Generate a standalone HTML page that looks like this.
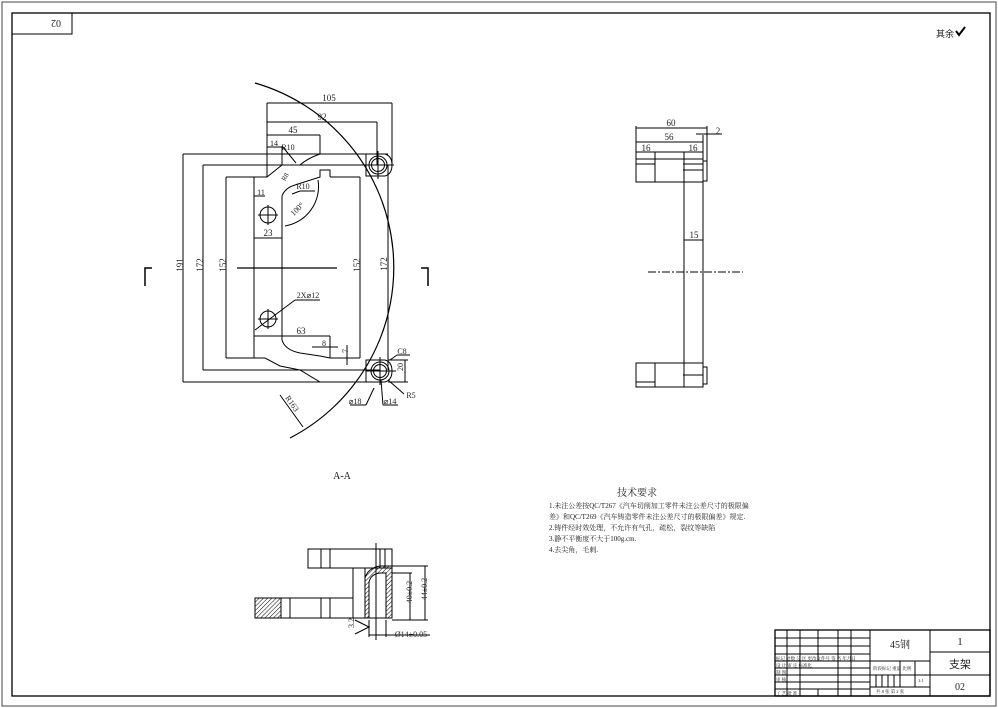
<!DOCTYPE html>
<html><head><meta charset="utf-8"><style>
html,body{margin:0;padding:0;background:#fff;}
svg{display:block;}
text{font-family:"Liberation Serif","Noto Serif CJK SC",serif;fill:#222;}
.c{font-family:"Liberation Sans","Noto Sans CJK SC",sans-serif;}
</style></head><body>
<svg width="998" height="708" viewBox="0 0 998 708" xmlns="http://www.w3.org/2000/svg">
<defs>
<pattern id="h" width="3" height="3" patternUnits="userSpaceOnUse" patternTransform="rotate(45)"><line x1="0" y1="0" x2="0" y2="3" stroke="#000" stroke-width="1"/></pattern>
</defs>
<rect x="2" y="2" width="994" height="704" fill="none" stroke="#444" stroke-width="1"/>
<rect x="12" y="13" width="978" height="683" fill="none" stroke="#000" stroke-width="1.3"/>
<rect x="12" y="13" width="60" height="21" fill="none" stroke="#000" stroke-width="1"/>
<text x="56" y="27" font-size="10" transform="rotate(180 56 23.5)" text-anchor="middle">02</text>
<text x="936" y="37" font-size="9" class="c">其余</text>
<path d="M956 31 l3 4 l6 -8" fill="none" stroke="#000" stroke-width="2"/>

<!-- MAIN VIEW -->
<g fill="none" stroke="#000" stroke-width="1">
<!-- big arc R163 -->
<path d="M255 83 A192 192 0 0 1 290 438" stroke-width="1.2"/>
<!-- extension/dimension lines -->
<line x1="183" y1="154" x2="388" y2="154"/>
<line x1="183" y1="382" x2="320" y2="382"/>
<line x1="183" y1="154" x2="183" y2="382"/>
<line x1="203" y1="165" x2="380" y2="165"/>
<line x1="203" y1="370" x2="380" y2="370"/>
<line x1="203" y1="165" x2="203" y2="370"/>
<line x1="226" y1="177" x2="254" y2="177"/>
<line x1="226" y1="358" x2="254" y2="358"/>
<line x1="226" y1="177" x2="226" y2="358"/>
<line x1="330" y1="177" x2="360" y2="177"/>
<line x1="330" y1="358" x2="360" y2="358"/>
<line x1="360" y1="177" x2="360" y2="358"/>
<line x1="388" y1="165" x2="388" y2="370"/>
<line x1="267" y1="103" x2="267" y2="177"/>
<line x1="392" y1="103" x2="392" y2="165"/>
<line x1="267" y1="103" x2="392" y2="103"/>
<line x1="377" y1="122" x2="377" y2="165"/>
<line x1="267" y1="122" x2="377" y2="122"/>
<line x1="320" y1="135" x2="320" y2="154"/>
<line x1="267" y1="135" x2="320" y2="135"/>
<line x1="267" y1="147" x2="282" y2="147"/>
<line x1="282" y1="147" x2="282" y2="165"/>
<line x1="254" y1="196" x2="265" y2="196"/>
<line x1="254" y1="238" x2="282" y2="238"/>
<line x1="254" y1="336" x2="330" y2="336"/>
<line x1="330" y1="336" x2="330" y2="358"/>
<line x1="312" y1="347" x2="338" y2="347"/>
<line x1="330" y1="358" x2="350" y2="358"/>
<line x1="347" y1="345" x2="347" y2="365"/>
<line x1="388" y1="360" x2="408" y2="360"/>
<line x1="388" y1="382" x2="408" y2="382"/>
<line x1="405" y1="360" x2="405" y2="382"/>
<!-- part outline -->
<path d="M254 177 L254 358 L265 358 L280 366 L300 370 L320 382 L370 382"/>
<path d="M254 177 L267 177 L282 165 L300 165 Q308 158 320 154"/>
<path d="M282 196 L282 340 Q285 350 300 353 L320 356 L330 358"/>
<path d="M282 196 Q285 188 295 185 L320 177 L320 170 L330 170 L330 177"/>
<path d="M285 226 A40 40 0 0 0 318 180"/>
<line x1="237" y1="268" x2="337" y2="268" stroke-width="1.2"/>
<!-- holes -->
<circle cx="268" cy="215" r="8"/>
<circle cx="268" cy="319" r="8"/>
<line x1="258" y1="215" x2="278" y2="215"/><line x1="268" y1="205" x2="268" y2="225"/>
<line x1="258" y1="319" x2="278" y2="319"/><line x1="268" y1="309" x2="268" y2="329"/>
<line x1="255" y1="330" x2="295" y2="300"/><line x1="295" y1="300" x2="320" y2="300"/>
<!-- lugs -->
<path d="M366 154 L385 154 Q392 156 392 165 Q392 174 385 176 L366 176 Z"/>
<circle cx="378" cy="165" r="9"/><circle cx="378" cy="165" r="6.5"/>
<line x1="364" y1="165" x2="394" y2="165"/><line x1="378" y1="151" x2="378" y2="179"/>
<path d="M366 360 L385 360 Q392 362 392 371 Q392 380 385 382 L366 382 Z"/>
<circle cx="380" cy="371" r="9"/><circle cx="380" cy="371" r="6.5"/>
<line x1="366" y1="371" x2="396" y2="371"/><line x1="380" y1="357" x2="380" y2="385"/>
<!-- leaders -->
<line x1="374" y1="388" x2="366" y2="405"/><line x1="350" y1="405" x2="366" y2="405"/>
<line x1="381" y1="380" x2="383" y2="405"/><line x1="383" y1="405" x2="398" y2="405"/>
<line x1="388" y1="380" x2="404" y2="394"/>
<line x1="390" y1="360" x2="397" y2="355"/><line x1="397" y1="355" x2="410" y2="355"/>
<line x1="280" y1="395" x2="303" y2="427"/>
<line x1="292" y1="194" x2="300" y2="191"/><line x1="300" y1="191" x2="315" y2="191"/>
<line x1="296" y1="163" x2="282" y2="146"/>
<!-- section markers -->
<polyline points="145,286 145,268 152,268" stroke-width="1.5"/>
<polyline points="428,286 428,268 421,268" stroke-width="1.5"/>
</g>
<g font-size="9" text-anchor="middle">
<text x="329" y="101">105</text><text x="322" y="120">92</text><text x="293" y="133">45</text>
<text x="274" y="146" font-size="8">14</text><text x="288" y="150" font-size="8">R10</text>
<text x="261" y="195" font-size="8">11</text><text x="268" y="236">23</text>
<text x="303" y="189" font-size="8">R10</text>
<text x="299" y="211" font-size="8" transform="rotate(-45 299 211)">100°</text>
<text x="287" y="178" font-size="7" transform="rotate(-60 287 178)">R8</text>
<text x="308" y="298" font-size="8">2X⌀12</text><text x="301" y="334">63</text>
<text x="324" y="346" font-size="8">8</text>
<text x="183" y="271" transform="rotate(-90 180 268)">191</text>
<text x="203" y="271" transform="rotate(-90 200 268)">172</text>
<text x="226" y="271" transform="rotate(-90 223 268)">152</text>
<text x="360" y="271" transform="rotate(-90 357 268)">152</text>
<text x="388" y="271" transform="rotate(-90 384 268)">172</text>
<text x="349" y="358" font-size="8" transform="rotate(-90 345 355)">7</text>
<text x="405" y="373" font-size="8" transform="rotate(-90 401 371)">20</text>
<text x="402" y="354" font-size="8">C8</text>
<text x="355" y="404" font-size="8">⌀18</text><text x="390" y="404" font-size="8">⌀14</text>
<text x="411" y="398" font-size="8">R5</text>
<text x="290" y="405" font-size="8" transform="rotate(55 290 405)">R163</text>
<text x="342" y="479" font-size="10">A-A</text>
</g>

<!-- SIDE VIEW -->
<g fill="none" stroke="#000" stroke-width="1">
<rect x="636" y="152" width="67" height="30"/>
<line x1="636" y1="159" x2="703" y2="159"/><line x1="636" y1="164" x2="655" y2="164"/>
<line x1="683" y1="164" x2="703" y2="164"/><line x1="683" y1="170" x2="703" y2="170"/>
<line x1="655" y1="152" x2="655" y2="182"/><line x1="684" y1="152" x2="684" y2="182"/>
<rect x="703" y="161" width="4" height="20"/>
<line x1="684" y1="182" x2="684" y2="363"/><line x1="703" y1="182" x2="703" y2="363"/>
<rect x="636" y="363" width="67" height="24"/>
<line x1="636" y1="382" x2="655" y2="382"/><line x1="683" y1="375" x2="703" y2="375"/>
<line x1="655" y1="363" x2="655" y2="387"/><line x1="684" y1="363" x2="684" y2="387"/>
<rect x="703" y="367" width="4" height="17"/>
<line x1="648" y1="272" x2="743" y2="272" stroke-dasharray="8,2,2,2"/>
<line x1="636" y1="126" x2="636" y2="152"/><line x1="707" y1="126" x2="707" y2="161"/>
<line x1="636" y1="128" x2="707" y2="128"/><line x1="636" y1="142" x2="703" y2="142"/>
<line x1="703" y1="135" x2="703" y2="152"/><line x1="696" y1="134" x2="722" y2="134"/>
<line x1="636" y1="152" x2="655" y2="152"/>
<line x1="684" y1="240" x2="703" y2="240"/>
</g>
<g font-size="9" text-anchor="middle">
<text x="671" y="126">60</text><text x="669" y="140">56</text>
<text x="646" y="151">16</text><text x="693" y="151">16</text>
<text x="718" y="134">2</text><text x="694" y="238">15</text>
</g>

<!-- BOTTOM VIEW -->
<g fill="none" stroke="#000" stroke-width="1">
<rect x="308" y="549" width="84" height="19"/>
<line x1="321" y1="549" x2="321" y2="568"/><line x1="330" y1="549" x2="330" y2="568"/>
<line x1="380" y1="549" x2="380" y2="568"/><line x1="385" y1="549" x2="385" y2="568"/>
<rect x="353" y="568" width="12" height="50"/>
<rect x="255" y="598" width="98" height="20"/>
<rect x="255" y="598" width="26" height="20" fill="url(#h)"/>
<line x1="290" y1="598" x2="290" y2="618"/><line x1="321" y1="598" x2="321" y2="618"/>
<line x1="330" y1="598" x2="330" y2="618"/>
<path d="M365 618 L365 578 Q368 568 380 566 L392 566 L392 618 Z" fill="url(#h)"/>
<path d="M369 618 L369 582 Q371 574 380 573 L386 573 L386 618 Z" fill="#fff"/>
<line x1="376" y1="543" x2="376" y2="640"/>
<line x1="392" y1="573" x2="412" y2="573"/><line x1="392" y1="566" x2="428" y2="566"/>
<line x1="392" y1="620" x2="428" y2="620"/>
<line x1="410" y1="573" x2="410" y2="620"/><line x1="425" y1="566" x2="425" y2="620"/>
<line x1="369" y1="620" x2="369" y2="637"/><line x1="386" y1="620" x2="386" y2="637"/>
<line x1="369" y1="635" x2="430" y2="635"/>
<path d="M355 620 L369 627 L355 634"/>
</g>
<g font-size="8" text-anchor="middle">
<text x="412" y="600" transform="rotate(-90 408 596)">40±0.2</text>
<text x="427" y="597" transform="rotate(-90 423 593)">44±0.2</text>
<text x="411" y="637">Ø14±0.05</text>
<text x="354" y="631" transform="rotate(-90 350 627)">3.2</text>
</g>

<!-- TECH REQ -->
<g font-size="7" class="c">
<text x="617" y="496" font-size="10">技术要求</text>
<text x="549" y="508">1.未注公差按QC/T267《汽车切削加工零件未注公差尺寸的极限偏</text>
<text x="549" y="519">差》和QC/T269《汽车铸造零件未注公差尺寸的极限偏差》规定.</text>
<text x="549" y="530">2.铸件经时效处理，不允许有气孔，疏松，裂纹等缺陷</text>
<text x="549" y="541">3.静不平衡度不大于100g.cm.</text>
<text x="549" y="552">4.去尖角，毛刺.</text>
</g>

<!-- TITLE BLOCK -->
<g fill="none" stroke="#000" stroke-width="1">
<rect x="775" y="630" width="215" height="66" stroke-width="1.3"/>
<line x1="870" y1="630" x2="870" y2="696"/><line x1="930" y1="630" x2="930" y2="696"/>
<line x1="930" y1="652" x2="990" y2="652"/><line x1="930" y1="675" x2="990" y2="675"/>
<line x1="775" y1="638" x2="870" y2="638"/><line x1="775" y1="646" x2="870" y2="646"/>
<line x1="775" y1="654" x2="870" y2="654"/><line x1="775" y1="661" x2="930" y2="661"/>
<line x1="775" y1="668" x2="870" y2="668"/><line x1="775" y1="675" x2="870" y2="675"/>
<line x1="775" y1="682" x2="870" y2="682"/><line x1="775" y1="689" x2="870" y2="689"/>
<line x1="870" y1="675" x2="930" y2="675"/><line x1="870" y1="687" x2="930" y2="687"/>
<line x1="787" y1="630" x2="787" y2="696"/><line x1="800" y1="630" x2="800" y2="696"/>
<line x1="818" y1="630" x2="818" y2="661"/><line x1="838" y1="630" x2="838" y2="696"/>
<line x1="851" y1="630" x2="851" y2="696"/><line x1="818" y1="689" x2="818" y2="696"/>
<line x1="900" y1="661" x2="900" y2="687"/><line x1="915" y1="661" x2="915" y2="687"/>
<line x1="876" y1="675" x2="876" y2="687"/><line x1="882" y1="675" x2="882" y2="687"/>
<line x1="888" y1="675" x2="888" y2="687"/><line x1="894" y1="675" x2="894" y2="687"/>
</g>
<g class="c" font-size="4.5" fill="#333">
<text x="776" y="660">标记 处数 分 区 更改文件号 签 名 年月日</text>
<text x="776" y="667">设 计  审 定        标准化</text>
<text x="776" y="674">制 图</text><text x="776" y="681">审 核</text>
<text x="776" y="695">工 艺              批 准</text>
<text x="873" y="670">阶段标记   重量  比例</text>
<text x="918" y="682">1:1</text>
<text x="876" y="693">共 8 张  第 2 张</text>
</g>
<g text-anchor="middle">
<text x="900" y="648" font-size="10">45钢</text>
<text x="960" y="645" font-size="11">1</text>
<text x="960" y="668" font-size="11" class="c">支架</text>
<text x="960" y="690" font-size="10">02</text>
</g>
</svg>
</body></html>
